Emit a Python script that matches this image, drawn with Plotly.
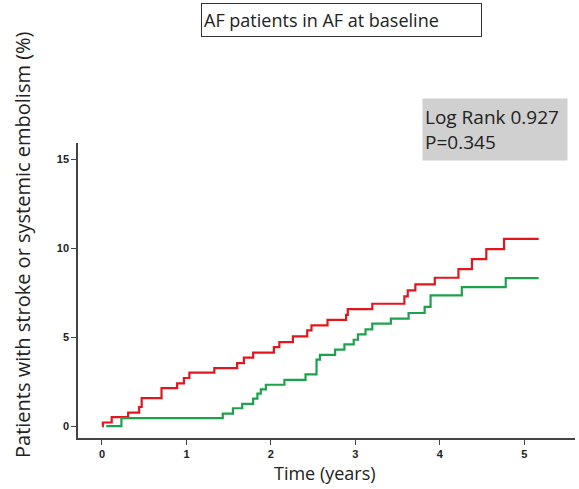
import plotly.graph_objects as go

# Data (years, cumulative % with stroke or systemic embolism)
red_time = [0, 0.01, 0.115, 0.31, 0.44, 0.47, 0.705, 0.89, 0.97, 1.035, 1.33, 1.6, 1.68, 1.79,
            2.035, 2.1, 2.26, 2.43, 2.48, 2.67, 2.89, 2.91, 3.2, 3.58, 3.62, 3.71, 3.94, 4.22,
            4.38, 4.55, 4.76, 5.17]
red_value = [0, 0.2, 0.5, 0.75, 1.07, 1.57, 2.13, 2.4, 2.7, 3.0, 3.26, 3.54, 3.84, 4.12,
             4.44, 4.72, 5.04, 5.37, 5.66, 5.97, 6.25, 6.57, 6.87, 7.28, 7.62, 7.96, 8.33, 8.82,
             9.38, 9.94, 10.52, 10.52]

green_time = [0.05, 0.23, 1.43, 1.55, 1.66, 1.79, 1.84, 1.88, 1.94, 2.16, 2.41, 2.54, 2.58,
              2.76, 2.87, 2.98, 3.03, 3.12, 3.2, 3.42, 3.63, 3.82, 3.89, 4.26, 4.78, 5.17]
green_value = [0, 0.45, 0.7, 1.0, 1.25, 1.54, 1.82, 2.06, 2.32, 2.6, 2.9, 3.73, 4.0,
               4.29, 4.59, 4.85, 5.15, 5.43, 5.75, 6.03, 6.35, 6.69, 7.34, 7.81, 8.31, 8.31]

x_ticks = [0, 1, 2, 3, 4, 5]
y_ticks = [0, 5, 10, 15]

title_text = "AF patients in AF at baseline"
stat_text = "Log Rank 0.927<br>P=0.345"
x_title = "Time (years)"
y_title = "Patients with stroke or systemic embolism (%)"

fig = go.Figure()
fig.add_trace(go.Scatter(x=red_time, y=red_value, mode="lines", line_shape="hv",
                         line=dict(color="#e3161d", width=2.2), showlegend=False))
fig.add_trace(go.Scatter(x=green_time, y=green_value, mode="lines", line_shape="hv",
                         line=dict(color="#1ca24c", width=2.2), showlegend=False))

W, H = 579, 489
L, R, T, B = 78, 4, 143, 51
pw, ph = W - L - R, H - T - B

def px(xp):
    return (xp - L) / pw

def py(yp):
    return (H - B - yp) / ph

tickfont = dict(family="Liberation Sans Narrow, Arial Narrow, Liberation Sans", size=11,
                color="#222222", weight="bold")
base = "Open Sans, Noto Sans, sans-serif"

fig.update_layout(
    width=W, height=H,
    margin=dict(l=L, r=R, t=T, b=B),
    paper_bgcolor="white", plot_bgcolor="white",
    xaxis=dict(range=[-0.284, 5.6], tickvals=x_ticks, ticks="outside", ticklen=5,
               tickcolor="#444444", showline=True, linecolor="#444444", linewidth=1.5,
               showgrid=False, zeroline=False, tickfont=tickfont),
    yaxis=dict(range=[-0.67, 15.9], tickvals=y_ticks, ticks="outside", ticklen=5,
               tickcolor="#444444", showline=True, linecolor="#444444", linewidth=1.5,
               showgrid=False, zeroline=False, tickfont=tickfont),
    annotations=[
        dict(text=title_text, xref="paper", yref="paper", x=px(341.5), y=py(20),
             xanchor="center", yanchor="middle", showarrow=False,
             font=dict(family=base, size=18, color="#222222"),
             align="left", width=275, height=28, bordercolor="#333333", borderwidth=1,
             borderpad=2, bgcolor="white"),
        dict(text=stat_text, xref="paper", yref="paper", x=px(495), y=py(129.5),
             xanchor="center", yanchor="middle", showarrow=False,
             font=dict(family=base, size=19, color="#222222"),
             align="left", width=140, height=57, bgcolor="#d0d0d0", borderpad=2),
        dict(text=x_title, xref="paper", yref="paper", x=px(325), y=py(473),
             xanchor="center", yanchor="middle", showarrow=False,
             font=dict(family=base, size=18, color="#222222")),
        dict(text=y_title, xref="paper", yref="paper", x=px(22), y=py(245),
             xanchor="center", yanchor="middle", showarrow=False,
             font=dict(family=base, size=20, color="#222222"),
             textangle=-90),
    ],
)

fig.write_html("out.html", config={"displayModeBar": False},
               post_script="document.body.style.margin='0';")
